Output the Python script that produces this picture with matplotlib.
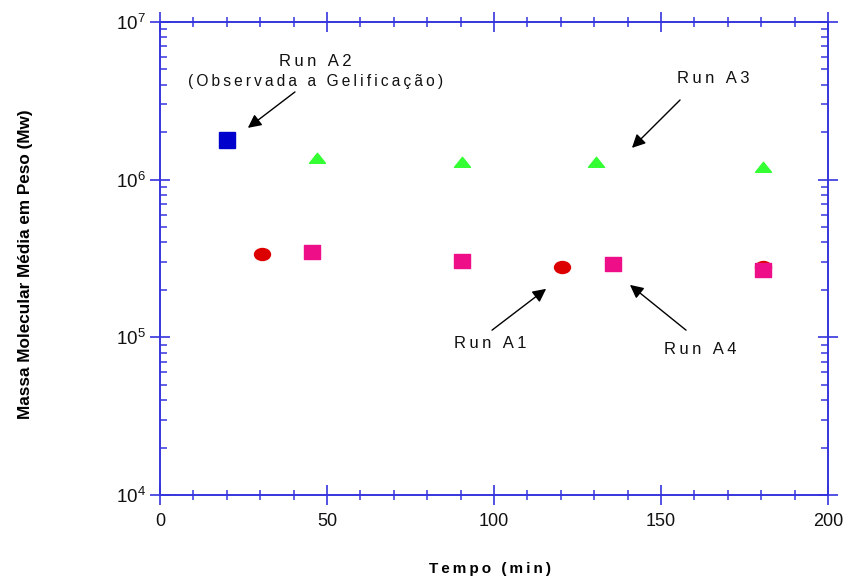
import matplotlib
matplotlib.use("Agg")
import matplotlib.pyplot as plt
from matplotlib.path import Path
from matplotlib.ticker import MultipleLocator, LogLocator, NullFormatter
import numpy as np

plt.rcParams['font.family'] = ['Liberation Sans', 'DejaVu Sans']
plt.rcParams['mathtext.fontset'] = 'custom'
plt.rcParams['mathtext.rm'] = 'Liberation Sans'

# data
a2_t = [20]
a2_mw = [1.78e6]
a3_t = [47, 90.5, 130.5, 180.5]
a3_mw = [1.37e6, 1.29e6, 1.30e6, 1.20e6]
a1_t = [30.5, 120.5, 180.5]
a1_mw = [3.38e5, 2.78e5, 2.80e5]
a4_t = [45.5, 90.5, 135.5, 180.5]
a4_mw = [3.47e5, 3.07e5, 2.93e5, 2.66e5]

blue = '#0000CC'
green = '#33FF33'
red = '#DD0000'
pink = '#EE0F88'
axis_blue = '#3535DD'


def spaced(s):
    return '\u2009'.join(s)

# markers: slightly flattened shapes like the original
ellipse = Path(Path.unit_circle().vertices * np.array([1.0, 0.75]), Path.unit_circle().codes)
rect = Path([(-1, -0.82), (1, -0.82), (1, 0.82), (-1, 0.82), (-1, -0.82)], closed=True)
tri = Path([(-1, -0.6), (1, -0.6), (0, 0.65), (-1, -0.6)], closed=True)

fig = plt.figure(figsize=(8.53, 5.8), dpi=100)
ax = fig.add_axes([0.1876, 0.1466, 0.7831, 0.8155])

ax.plot(a1_t, a1_mw, linestyle='none', marker=ellipse, markersize=11.5, color=red, mec=red)
ax.plot(a4_t, a4_mw, linestyle='none', marker=rect, markersize=12, color=pink, mec=pink)
ax.plot(a3_t, a3_mw, linestyle='none', marker=tri, markersize=11.5, color=green, mec=green)
ax.plot(a2_t, a2_mw, linestyle='none', marker='s', markersize=11.5, color=blue, mec=blue)

ax.set_yscale('log')
ax.set_xlim(0, 200)
ax.set_ylim(1e4, 1e7)

ax.xaxis.set_major_locator(MultipleLocator(50))
ax.xaxis.set_minor_locator(MultipleLocator(10))
ax.yaxis.set_major_locator(LogLocator(base=10))
ax.yaxis.set_minor_locator(LogLocator(base=10, subs=np.arange(2, 10)))
ax.yaxis.set_minor_formatter(NullFormatter())

for s in ax.spines.values():
    s.set_color(axis_blue)
    s.set_linewidth(1.4)

ax.tick_params(axis='x', which='major', direction='inout', length=14.5, width=1.2,
               color=axis_blue, top=True, labelsize=13, pad=6, labelcolor='#111111')
ax.tick_params(axis='x', which='minor', direction='inout', length=7.5, width=1.1,
               color=axis_blue, top=True)
ax.tick_params(axis='y', which='major', direction='inout', length=15, width=1.2,
               color=axis_blue, right=True, labelsize=13.5, pad=3, labelcolor='#111111')
ax.tick_params(axis='y', which='minor', direction='in', length=5, width=1.1,
               color=axis_blue, right=True)

ax.set_xlabel(spaced('Tempo (min)'), fontsize=11, fontweight='bold')
ax.xaxis.set_label_coords(0.494, -0.141)
ax.set_ylabel('Massa Molecular Média em Peso (Mw)', fontsize=12.3, fontweight='bold')
ax.yaxis.set_label_coords(-0.190, 0.488)

# annotations
arrow = dict(arrowstyle='-|>', color='black', lw=1.0, mutation_scale=20, shrinkA=0, shrinkB=0)
txt = dict(fontsize=12, ha='center', va='center', color='#111111')

ax.text(46.5, 5.6e6, spaced('Run A2'), **txt)
ax.text(46.5, 4.2e6, spaced('(Observada a Gelificação)'), **dict(txt, fontsize=11.2))
ax.annotate('', xy=(26.3, 2.13e6), xytext=(40.4, 3.6e6), arrowprops=arrow)

ax.text(165.6, 4.41e6, spaced('Run A3'), **txt)
ax.annotate('', xy=(141.3, 1.59e6), xytext=(155.7, 3.2e6), arrowprops=arrow)

ax.text(98.8, 9.2e4, spaced('Run A1'), **txt)
ax.annotate('', xy=(115.6, 2.03e5), xytext=(99.4, 1.11e5), arrowprops=arrow)

ax.text(161.7, 8.4e4, spaced('Run A4'), **txt)
ax.annotate('', xy=(140.7, 2.15e5), xytext=(157.5, 1.11e5), arrowprops=arrow)

fig.savefig('out.png', dpi=100)
